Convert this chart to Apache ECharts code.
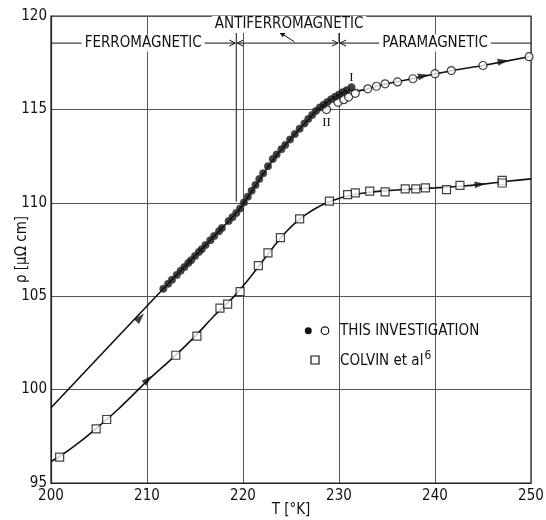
<!DOCTYPE html>
<html><head><meta charset="utf-8">
<script src="https://cdn.jsdelivr.net/npm/echarts@6/dist/echarts.min.js"></script>
<style>html,body{margin:0;padding:0;background:#fff}#c{width:546px;height:520px}</style>
</head><body><div id="c"></div>
<script>
// ---- data ----
const xTicks = [200, 210, 220, 230, 240, 250];
const yTicks = [95, 100, 105, 110, 115, 120];

// this investigation, branch I (filled circles)
const filledT   = [211.7,212.2,212.6,213.1,213.5,213.9,214.3,214.6,215.0,215.4,215.7,216.1,216.6,217.0,217.5,217.8,218.5,218.9,219.3,219.7,220.1,220.5,220.9,221.3,221.7,222.1,222.6,223.1,223.5,224.0,224.4,224.9,225.4,225.9,226.4,226.8,227.2,227.6,228.0,228.4,228.8,229.2,229.6,230.0,230.4,230.8,231.3];
const filledRho = [105.40,105.66,105.88,106.14,106.36,106.56,106.78,106.93,107.15,107.36,107.52,107.74,108.00,108.22,108.48,108.65,109.02,109.23,109.45,109.70,110.02,110.33,110.64,110.95,111.27,111.58,111.96,112.34,112.58,112.87,113.10,113.39,113.68,113.97,114.25,114.48,114.70,114.92,115.10,115.25,115.40,115.55,115.68,115.80,115.92,116.03,116.18];

// this investigation, branch II and paramagnetic region (open circles)
const openT   = [228.7,229.9,230.5,231.0,231.7,233.0,233.9,234.8,236.1,237.7,240.0,241.7,245.0,249.8];
const openRho = [114.99,115.38,115.52,115.66,115.86,116.10,116.24,116.37,116.47,116.64,116.91,117.08,117.35,117.82];

// Colvin et al (squares)
const colvinT   = [200.9,204.7,205.8,213.0,215.2,217.6,218.4,219.7,221.6,222.6,223.9,225.9,229.0,230.9,231.7,233.2,234.8,236.9,238.0,239.0,241.2,242.6,247.0,247.0];
const colvinRho = [96.38,97.90,98.40,101.84,102.86,104.36,104.58,105.24,106.64,107.32,108.14,109.14,110.09,110.44,110.53,110.62,110.59,110.75,110.75,110.80,110.71,110.93,111.20,111.06];

// drawn curves
const upperCurveT   = [200,211.7,215,218,219.5,220.5,221.5,222.5,223.5,224.5,225.5,226.5,227.5,228.5,229.3,230.0,230.8,231.6,232.3,233,234,235,236,237.7,240,242,245,249.8];
const upperCurveRho = [99.03,105.40,107.15,108.75,109.57,110.30,111.08,111.85,112.55,113.15,113.72,114.28,114.85,115.28,115.58,115.80,115.97,116.00,116.02,116.10,116.25,116.38,116.48,116.65,116.90,117.10,117.35,117.82];
const lowerCurveT   = [200,201,203,205,207,210,213,215,217,219,220.5,222,223.5,224.5,225.5,226.5,227.5,228.5,229.5,231,233,235,237,240,243,245,247.5,250];
const lowerCurveRho = [96.15,96.45,97.20,98.05,98.95,100.45,101.85,102.85,103.95,104.95,105.85,106.85,107.85,108.45,108.95,109.35,109.68,109.95,110.15,110.38,110.55,110.65,110.72,110.80,110.90,111.00,111.15,111.28];

// direction arrows on the curves
const arrowT     = [209.3, 210.1, 238.8, 247.1, 244.7];
const arrowRho   = [103.86, 100.54, 116.80, 117.58, 110.99];
const arrowAngle = [47, 44, 12, 11, 6];

const zip = (a, b) => a.map((v, i) => [v, b[i]]);

const F = '"Liberation Sans Narrow","DejaVu Sans Condensed","Roboto Condensed","Liberation Sans",sans-serif';
const INK = '#111';

const chart = echarts.init(document.getElementById('c'), null, {renderer: 'canvas'});

chart.setOption({
  animation: false,
  backgroundColor: '#fff',
  grid: {left: 51, right: 15, top: 16, bottom: 37, containLabel: false, outerBoundsMode: 'none',
         show: true, borderColor: '#222', borderWidth: 1.2, backgroundColor: 'transparent'},
  xAxis: {
    type: 'value', min: xTicks[0], max: xTicks[xTicks.length - 1], interval: 10,
    name: 'T [°K]', nameLocation: 'middle', nameGap: 20, nameMoveOverlap: false,
    nameTextStyle: {fontFamily: F, fontSize: 15, color: INK},
    axisLine: {show: true, lineStyle: {color: '#222', width: 1.2}},
    axisTick: {show: false},
    axisLabel: {fontFamily: F, fontSize: 15, color: INK, margin: 6},
    splitLine: {show: true, lineStyle: {color: '#555', width: 1}}
  },
  yAxis: {
    type: 'value', min: yTicks[0], max: yTicks[yTicks.length - 1], interval: 5,
    name: 'ρ [μΩ cm]', nameLocation: 'middle', nameGap: 21, nameMoveOverlap: false,
    nameTextStyle: {fontFamily: F, fontSize: 15, color: INK},
    axisLine: {show: true, lineStyle: {color: '#222', width: 1.2}},
    axisTick: {show: false},
    axisLabel: {fontFamily: F, fontSize: 15, color: INK, margin: 4},
    splitLine: {show: true, lineStyle: {color: '#555', width: 1}}
  },
  series: [
    {type: 'line', data: zip(upperCurveT, upperCurveRho), showSymbol: false, smooth: 0.2,
     lineStyle: {color: INK, width: 1.6}, z: 3, silent: true},
    {type: 'line', data: zip(lowerCurveT, lowerCurveRho), showSymbol: false, smooth: 0.2,
     lineStyle: {color: INK, width: 1.6}, z: 3, silent: true},
    {type: 'scatter', data: arrowT.map((t, i) => ({value: [t, arrowRho[i]], symbolRotate: arrowAngle[i] - 90})),
     symbol: 'triangle', symbolSize: [7, 11], itemStyle: {color: INK}, z: 4},
    {type: 'scatter', data: zip(colvinT, colvinRho), symbol: 'rect', symbolSize: 8,
     itemStyle: {color: '#fff', borderColor: INK, borderWidth: 1.2}, z: 5},
    {type: 'scatter', data: zip(openT, openRho), symbol: 'circle', symbolSize: 8,
     itemStyle: {color: '#fff', borderColor: INK, borderWidth: 1.2}, z: 5},
    {type: 'scatter', data: zip(filledT, filledRho), symbol: 'circle', symbolSize: 7.5,
     itemStyle: {color: INK, borderColor: '#444', borderWidth: 0.5}, z: 6}
  ]
});

const P = (t, r) => chart.convertToPixel({gridIndex: 0}, [t, r]);

const g = [];
const line = (a, b, w) => g.push({type: 'line', z: 100, shape: {x1: a[0], y1: a[1], x2: b[0], y2: b[1]}, style: {stroke: INK, lineWidth: w || 1}});
const chevron = (x, y, dir) => g.push({type: 'polyline', z: 100, shape: {points: [[x - dir * 6, y - 3], [x, y], [x - dir * 6, y + 3]]}, style: {stroke: INK, lineWidth: 1, fill: null}});
const text = (s, x, y, opts) => g.push(Object.assign({type: 'text', z: 101, x: x, y: y,
  style: Object.assign({text: s, font: '15px ' + F, fill: INK, align: 'center', verticalAlign: 'middle'}, (opts || {}))}));

// phase header
const yH = P(200, 118.55)[1];
const xL = P(200, 0)[0], xB1 = P(219.3, 0)[0], xB2 = P(230, 0)[0], xR = P(250, 0)[0];
line([xL, yH], [xB1 - 1, yH]);
chevron(xB1 - 1, yH, 1);
line([xB1 + 1, yH], [xB2 - 1, yH]);
chevron(xB1 + 1, yH, -1);
chevron(xB2 - 1, yH, 1);
line([xB2 + 1, yH], [xR, yH]);
chevron(xB2 + 1, yH, -1);
line(P(219.3, 119.1), P(219.3, 110.06));
line([xB2, P(0, 119.1)[1]], [xB2, yH]);
text('FERROMAGNETIC', P(209.6, 0)[0], yH, {backgroundColor: '#fff', padding: [1, 3]});
text('PARAMAGNETIC', P(240.0, 0)[0], yH, {backgroundColor: '#fff', padding: [1, 3]});
text('ANTIFERROMAGNETIC', P(224.8, 119.55)[0], P(224.8, 119.55)[1], {backgroundColor: '#fff', padding: [1, 3]});
// leader arrow
const la = P(225.35, 118.62), lb = P(223.75, 119.15);
line(la, lb);
{
  const ang = Math.atan2(lb[1] - la[1], lb[0] - la[0]);
  const hx = lb[0], hy = lb[1], L = 6, W = 2.5;
  const bx = hx - L * Math.cos(ang), by = hy - L * Math.sin(ang);
  g.push({type: 'polygon', z: 100, shape: {points: [[hx, hy], [bx - W * Math.sin(ang), by + W * Math.cos(ang)], [bx + W * Math.sin(ang), by - W * Math.cos(ang)]]}, style: {fill: INK}});
}

// branch labels
const pI = P(231.3, 116.72), pII = P(228.7, 114.28);
text('I', pI[0], pI[1], {font: '13px "Liberation Serif","DejaVu Serif",serif'});
text('II', pII[0], pII[1], {font: '13px "Liberation Serif","DejaVu Serif",serif'});

// legend
g.push({type: 'circle', z: 100, shape: {cx: 308.3, cy: 330.7, r: 3.5}, style: {fill: INK}});
g.push({type: 'circle', z: 100, shape: {cx: 325, cy: 330.7, r: 3.8}, style: {fill: '#fff', stroke: INK, lineWidth: 1.2}});
text('THIS INVESTIGATION', 340, 331, {align: 'left'});
g.push({type: 'rect', z: 100, shape: {x: 311, y: 356, width: 8, height: 8}, style: {fill: '#fff', stroke: INK, lineWidth: 1.2}});
text('COLVIN et al', 340, 361.5, {align: 'left'});
const ctx = document.createElement('canvas').getContext('2d');
ctx.font = '15px ' + F;
const wC = ctx.measureText('COLVIN et al').width;
text('6', 340 + wC + 1, 355.5, {align: 'left', font: '12px ' + F});

chart.setOption({graphic: {elements: g}});
</script>
</body></html>
